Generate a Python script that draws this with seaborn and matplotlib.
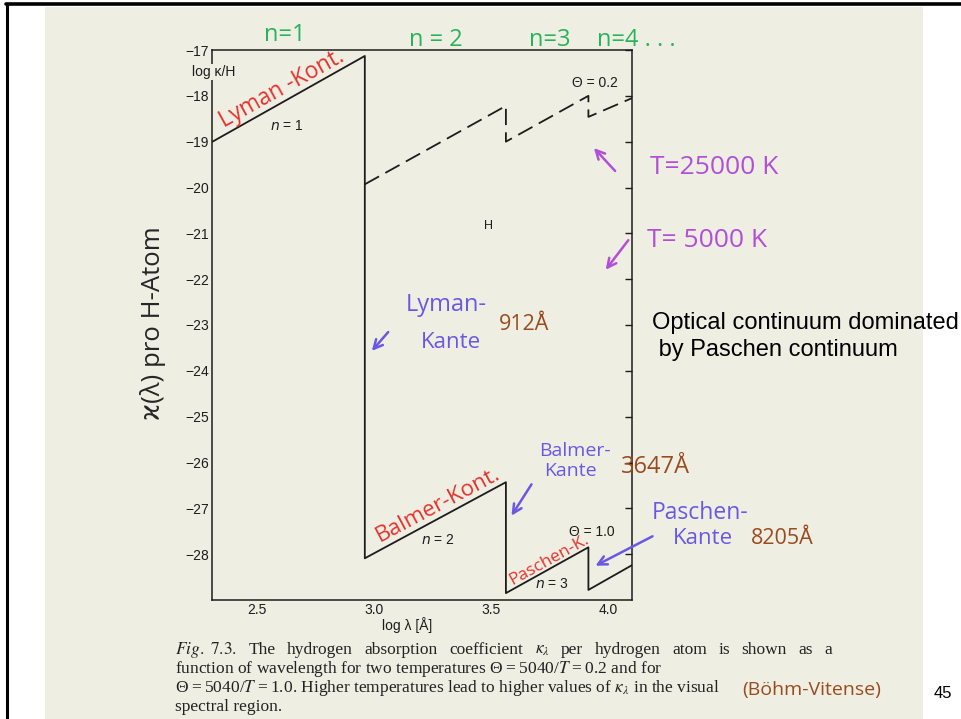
import matplotlib
matplotlib.use("Agg")
import matplotlib.pyplot as plt
from matplotlib.lines import Line2D
from matplotlib.patches import Rectangle, FancyArrowPatch
import seaborn as sns

# Hydrogen bound-free absorption per H atom, log kappa vs log wavelength [Å]
# Theta = 1.0: Lyman, Balmer and Paschen continua with their edges
log_lam_cool = [2.31, 2.96, 2.96, 3.562, 3.562, 3.914, 3.914, 4.10]
log_kap_cool = [-19.0, -17.13, -28.09, -26.43, -28.85, -27.85, -28.78, -28.24]
# Theta = 0.2: starts at the Lyman edge
log_lam_hot = [2.96, 3.562, 3.562, 3.914, 3.914, 4.10]
log_kap_hot = [-19.93, -18.22, -19.0, -18.0, -18.46, -18.05]

x_ticks = [2.5, 3.0, 3.5, 4.0]
x_tick_labels = ["2.5", "3.0", "3.5", "4.0"]
y_ticks = [-17, -18, -19, -20, -21, -22, -23, -24, -25, -26, -27, -28]
y_tick_labels = ["\u221217", "\u221218", "\u221219", "\u221220", "\u221221", "\u221222",
                 "\u221223", "\u221224", "\u221225", "\u221226", "\u221227", "\u221228"]

caption_first = [r"$\mathit{Fig.\ 7.3.}$", "The", "hydrogen", "absorption", "coefficient",
                 r"$\kappa_\lambda$", "per", "hydrogen", "atom", "is", "shown", "as", "a"]
caption_rest = [
    "function of wavelength for two temperatures Θ\u2009=\u20095040/$T$\u2009=\u20090.2 and for",
    "Θ\u2009=\u20095040/$T$\u2009=\u20091.0. Higher temperatures lead to higher values of $\\kappa_\\lambda$ in the visual",
    "spectral region.",
]

sns.set_style("white")
plt.rcParams["font.family"] = ["Liberation Sans", "DejaVu Sans"]

W, H = 962, 719
fig = plt.figure(figsize=(W / 100, H / 100), dpi=100, facecolor="white")


def fx(px):
    return px / W


def fy(py):
    return 1 - py / H


paper = "#EFEEE3"
ink = "#1c1c1c"
hand = ["Open Sans", "DejaVu Sans"]

# scanned page background and frame
fig.patches.append(Rectangle((fx(45), 0), fx(923) - fx(45), fy(7),
                             transform=fig.transFigure, facecolor=paper,
                             edgecolor="none", zorder=-5))
fig.lines.append(Line2D([fx(6), 1], [fy(4), fy(4)], transform=fig.transFigure,
                        color="black", lw=2.6, zorder=-4))
fig.lines.append(Line2D([fx(7), fx(7)], [0, fy(4)], transform=fig.transFigure,
                        color="black", lw=2.2, zorder=-4))

ax = fig.add_axes([fx(212), fy(600), fx(632) - fx(212), fy(50) - fy(600)])
ax.set_facecolor("none")

sns.lineplot(x=log_lam_cool, y=log_kap_cool, sort=False, estimator=None,
             color=ink, lw=1.3, ax=ax)
sns.lineplot(x=log_lam_hot, y=log_kap_hot, sort=False, estimator=None,
             color=ink, lw=1.3, linestyle=(0, (9, 4)), ax=ax)

ax.set_xlim(2.308, 4.10)
ax.set_ylim(-29, -17)
ax.set_xticks(x_ticks, x_tick_labels)
ax.set_yticks(y_ticks, y_tick_labels)
ax.tick_params(direction="in", length=5, width=1, colors=ink, labelsize=10, pad=2)
ax.tick_params(axis="y", right=True, labelright=False)
ax.tick_params(axis="x", top=False)
for sp in ax.spines.values():
    sp.set_visible(True)
    sp.set_color(ink)
    sp.set_linewidth(1.1)
ax.set_xlabel("")
ax.set_ylabel("")

# printed labels inside the panel
ax.text(2.317, -17.48, "log κ/H", ha="center", va="center", fontsize=10, color=ink,
        zorder=5, bbox=dict(boxstyle="square,pad=0.1", fc=paper, ec="none"))
ax.text(3.942, -17.72, "Θ = 0.2", ha="center", va="center", fontsize=10, color=ink)
ax.text(2.628, -18.65, "$n$ = 1", ha="center", va="center", fontsize=10, color=ink)
ax.text(3.486, -20.85, "H", ha="center", va="center", fontsize=9, color=ink)
ax.text(3.272, -27.70, "$n$ = 2", ha="center", va="center", fontsize=10, color=ink)
ax.text(3.929, -27.52, "Θ = 1.0", ha="center", va="center", fontsize=10, color=ink)
ax.text(3.759, -28.65, "$n$ = 3", ha="center", va="center", fontsize=10, color=ink)
fig.text(fx(407), fy(625), "log λ [Å]", ha="center", va="center", fontsize=10, color=ink)


def note(px, py, s, color, size, rot=0, ha="center", family=hand, **kw):
    fig.text(fx(px), fy(py), s, color=color, fontsize=size, rotation=rot,
             ha=ha, va="center", family=family, rotation_mode="anchor", **kw)


def arrow(x0, y0, x1, y1, color):
    fig.add_artist(FancyArrowPatch(
        (fx(x0), fy(y0)), (fx(x1), fy(y1)), transform=fig.transFigure,
        arrowstyle="->", mutation_scale=16, lw=1.8, color=color))


green = "#27b35a"
red = "#e5332d"
purple = "#b34fd6"
blue = "#6a58e2"
brown = "#9a4b1e"

note(285, 35, "n=1", green, 17)
note(436, 40, "n = 2", green, 17)
note(550, 40, "n=3", green, 17)
note(597, 40, "n=4 . . .", green, 17, ha="left")

note(282, 89, "Lyman -Kont.", red, 16.3, rot=29)
note(438, 505, "Balmer-Kont.", red, 16.2, rot=28)
note(549, 560, "Paschen-K.", red, 12.5, rot=29)

note(714, 168, "T=25000 K", purple, 19)
note(707, 240, "T= 5000 K", purple, 19)
arrow(617, 173, 592, 146, purple)
arrow(630, 238, 604, 272, purple)

note(446, 305, "Lyman-", blue, 17)
note(451, 343, "Kante", blue, 16)
arrow(390, 330, 370, 353, blue)
note(524, 325, "912Å", brown, 15.5)

note(575, 451, "Balmer-", blue, 14)
note(570, 471, "Kante", blue, 14)
arrow(533, 482, 510, 518, blue)
note(655, 467, "3647Å", brown, 17)

note(700, 513, "Paschen-", blue, 16.5)
note(703, 538, "Kante", blue, 16)
arrow(655, 535, 593, 567, blue)
note(782, 538, "8205Å", brown, 15.5)

note(153, 323, "ϰ(λ) pro H-Atom", "#262626", 18.5, rot=90)

note(652, 323, "Optical continuum dominated", "black", 17, ha="left", family="Liberation Sans")
note(652, 350, " by Paschen continuum", "black", 17, ha="left", family="Liberation Sans")

# caption: first line set justified between the margins, the rest flush left
cap_kw = dict(fontsize=12.5, family="Liberation Serif", math_fontfamily="stix",
              color="#222222", ha="left", va="baseline")
base0 = 654
step = 19
renderer = fig.canvas.get_renderer()
words = [fig.text(0, fy(base0), w, **cap_kw) for w in caption_first]
widths = [t.get_window_extent(renderer).width for t in words]
gap = (832 - 175 - sum(widths)) / (len(words) - 1)
xpos = 175
for t, w in zip(words, widths):
    t.set_x(fx(xpos))
    xpos += w + gap
for i, line in enumerate(caption_rest):
    fig.text(fx(175), fy(base0 + step * (i + 1)), line, **cap_kw)

note(812, 690, "(Böhm-Vitense)", brown, 14)
note(943, 693, "45", "black", 12, family="Liberation Sans")

fig.savefig("out.png", dpi=100, facecolor="white")
